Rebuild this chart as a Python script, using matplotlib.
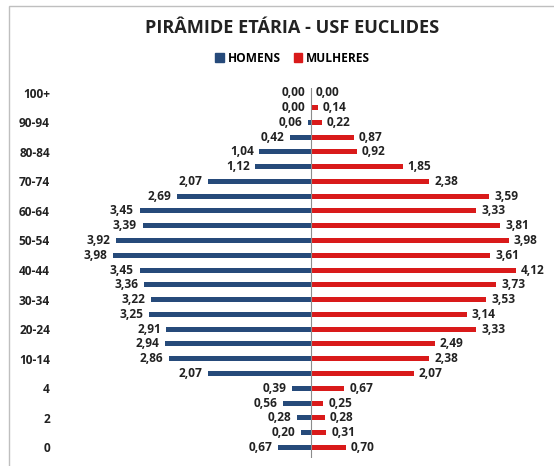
"""Pirâmide etária da USF Euclides (homens x mulheres, %)."""

import matplotlib

matplotlib.use("Agg")
import matplotlib.pyplot as plt
from matplotlib.patches import Patch, Rectangle

plt.rcParams["font.family"] = ["Open Sans", "DejaVu Sans"]
plt.rcParams["font.weight"] = "bold"

# faixas etárias de baixo para cima
faixas = ["0", "1", "2", "3", "4", "5-9", "10-14", "15-19", "20-24", "25-29",
          "30-34", "35-39", "40-44", "45-49", "50-54", "55-59", "60-64", "65-69",
          "70-74", "75-79", "80-84", "85-89", "90-94", "95-99", "100+"]
homens = [0.67, 0.20, 0.28, 0.56, 0.39, 2.07, 2.86, 2.94, 2.91, 3.25,
          3.22, 3.36, 3.45, 3.98, 3.92, 3.39, 3.45, 2.69, 2.07, 1.12,
          1.04, 0.42, 0.06, 0.00, 0.00]
mulheres = [0.70, 0.31, 0.28, 0.25, 0.67, 2.07, 2.38, 2.49, 3.33, 3.14,
            3.53, 3.73, 4.12, 3.61, 3.98, 3.81, 3.33, 3.59, 2.38, 1.85,
            0.92, 0.87, 0.22, 0.14, 0.00]

AZUL = "#264A7A"
VERMELHO = "#D91A1A"
TXT = 8.6


def fmt(v):
    return f"{v:.2f}".replace(".", ",")


fig = plt.figure(figsize=(5.54, 4.66), dpi=100)
ax = fig.add_axes([0.1128, 0.0172, 0.8872, 0.7933])

pos = list(range(len(faixas)))
ax.barh(pos, [-v for v in homens], height=0.34, color=AZUL)
ax.barh(pos, mulheres, height=0.34, color=VERMELHO)

for y, h, m in zip(pos, homens, mulheres):
    ax.annotate(fmt(h), (-h, y), xytext=(-4, 0), textcoords="offset points",
                ha="right", va="center", fontsize=TXT, color="#222222")
    ax.annotate(fmt(m), (m, y), xytext=(3.5, 0), textcoords="offset points",
                ha="left", va="center", fontsize=TXT, color="#222222")

ax.axvline(0, color="#8C8C8C", lw=0.8)
ax.set_xlim(-5, 4.89)
ax.set_ylim(-0.72, 24.3)
ax.set_xticks([])
ax.set_yticks(pos[::2], faixas[::2])
ax.tick_params(axis="y", length=0, pad=9, labelsize=TXT, labelcolor="#222222")
for spine in ax.spines.values():
    spine.set_visible(False)

fig.text(0.527, 0.94, "PIRÂMIDE ETÁRIA - USF EUCLIDES", ha="center", va="center",
         fontsize=13.1, color="#222222")
fig.legend(handles=[Patch(color=AZUL, label="HOMENS"), Patch(color=VERMELHO, label="MULHERES")],
           loc="center", bbox_to_anchor=(0.528, 1 - 58 / 466), ncol=2, frameon=False,
           fontsize=TXT, handlelength=0.7, handleheight=0.7, handletextpad=0.3, columnspacing=1.1)

# borda do gráfico (recortada à direita e embaixo)
fig.patches.append(Rectangle((9 / 554, -0.1), 1.2, 1.1 - 6 / 466, transform=fig.transFigure,
                             fill=False, edgecolor="#BFBFBF", lw=1))

fig.savefig("out.png", dpi=100)
